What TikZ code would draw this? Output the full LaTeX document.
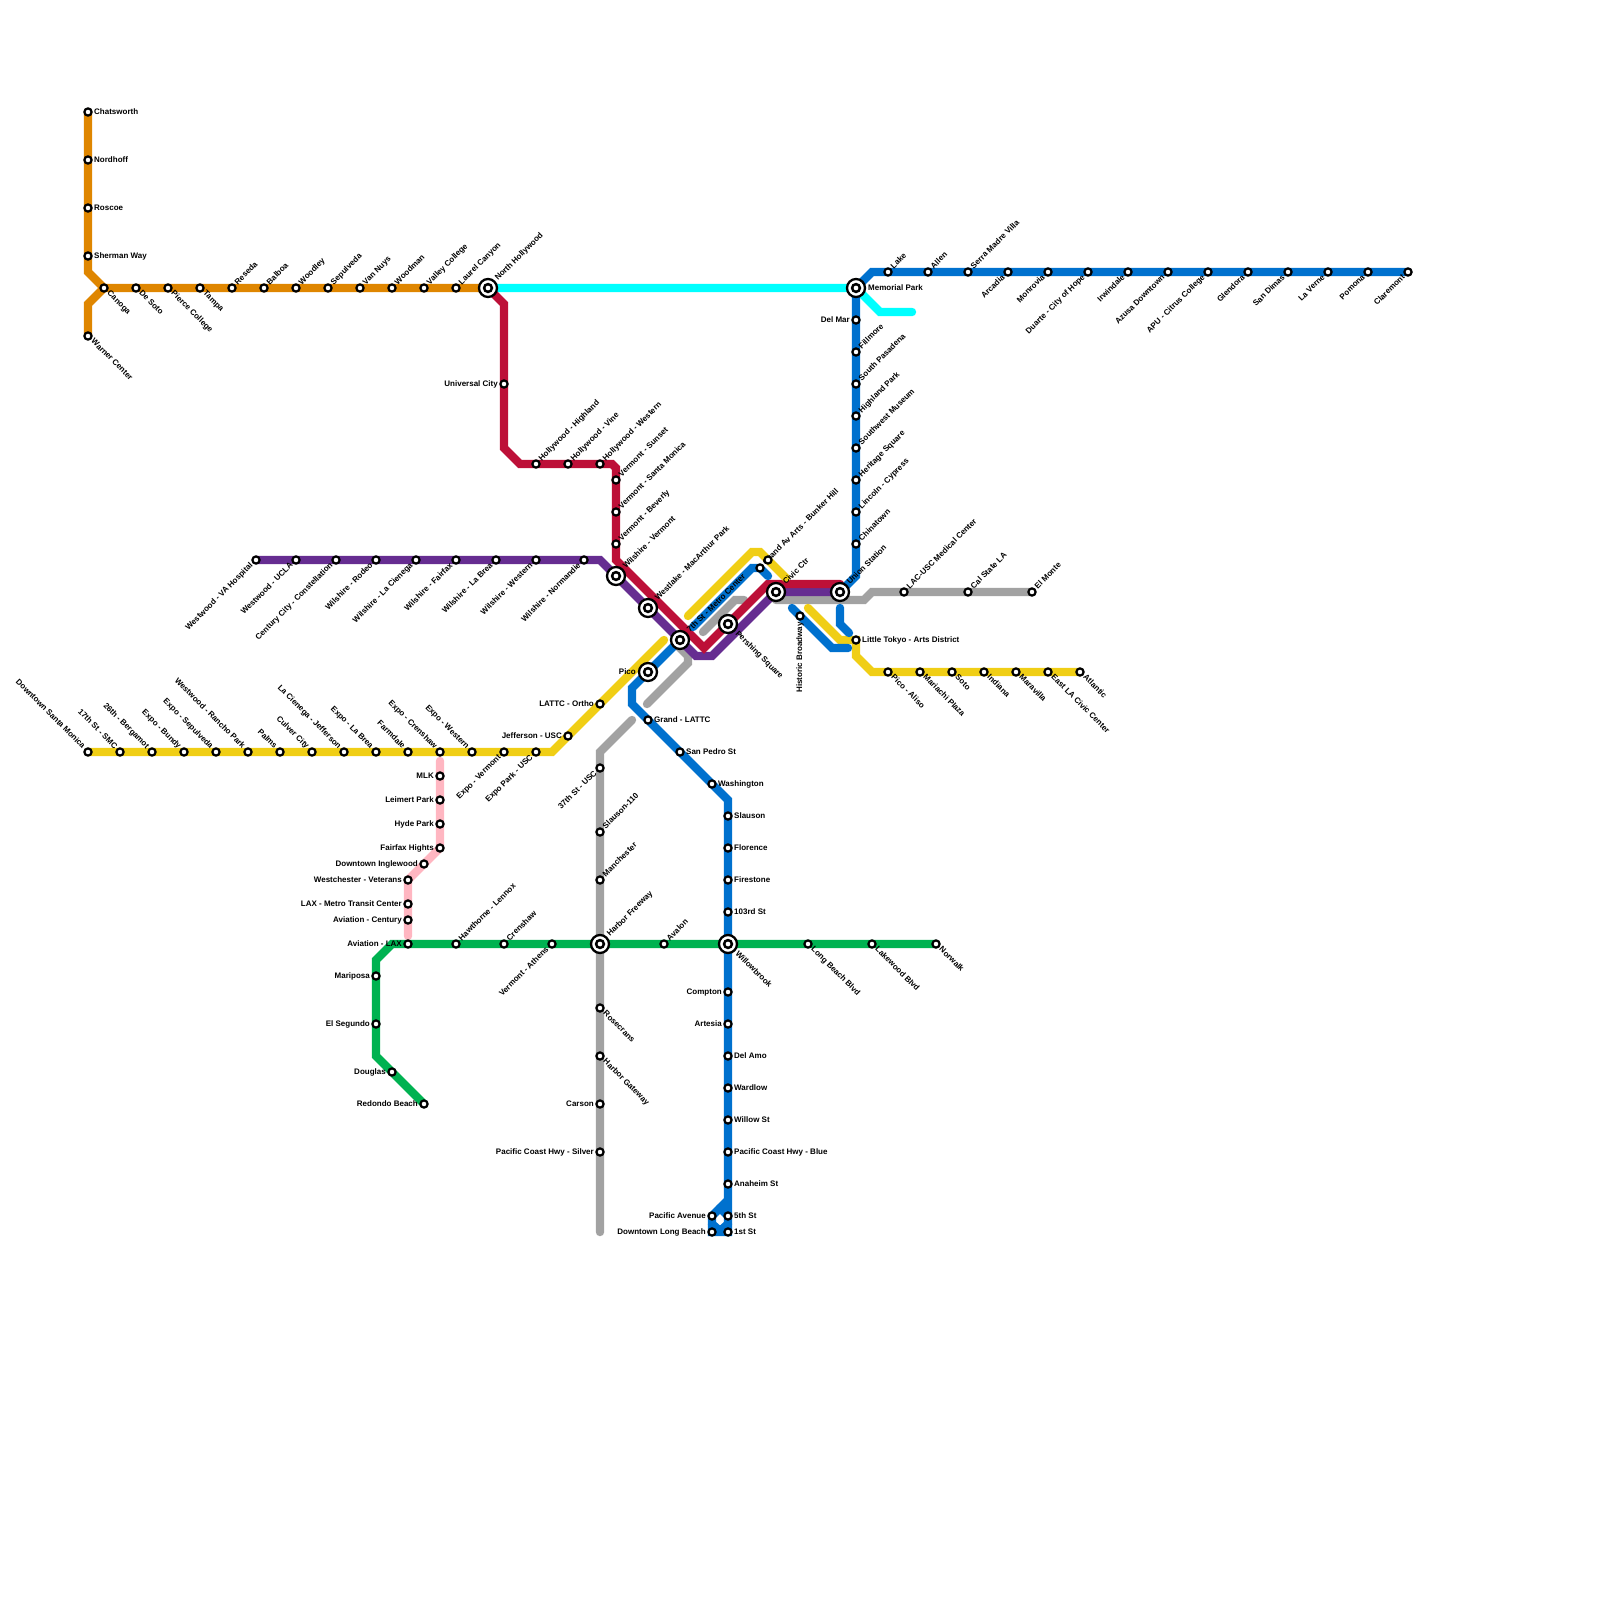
\documentclass[tikz,border=0pt]{standalone}
\usepackage{fontspec}
\setmainfont{Liberation Sans}
\definecolor{valleyorange}{HTML}{DF8600}
\definecolor{busway}{HTML}{00FFFF}
\definecolor{redline}{HTML}{BD1038}
\definecolor{purpleline}{HTML}{662D91}
\definecolor{goldline}{HTML}{F0CE15}
\definecolor{blueline}{HTML}{0071CE}
\definecolor{greenline}{HTML}{00B251}
\definecolor{silverline}{HTML}{A2A2A2}
\definecolor{pinkline}{HTML}{FFB6C1}
\pgfdeclarelayer{lines}
\pgfdeclarelayer{labels}
\pgfsetlayers{lines,labels,main}

\begin{document}
\begin{tikzpicture}[
  x=1pt, y=-1pt,
  track/.style={line width=8.4pt, line cap=round, miter limit=10},
  stop/.style={circle, draw=black, fill=white, line width=2.2pt, inner sep=0pt, minimum size=7.2pt},
  hub/.style={circle, draw=black, fill=white, line width=2.3pt, inner sep=0pt, minimum size=18pt,
    path picture={\draw[black, line width=2.5pt] (path picture bounding box.center) circle (3.9pt);}},
  lbl/.style={font=\fontsize{8}{9}\selectfont\bfseries, text=black, inner xsep=6pt, inner ysep=0pt,
    text height=6pt, text depth=1.7pt},
  lblE/.style={lbl, anchor=west},
  lblW/.style={lbl, anchor=east},
  lblS/.style={lbl, rotate=90, anchor=east},
  lblNE/.style={lbl, rotate=45, anchor=west},
  lblSE/.style={lbl, rotate=-45, anchor=west},
  lblSW/.style={lbl, rotate=45, anchor=east},
  lblNW/.style={lbl, rotate=-45, anchor=east},
]

\useasboundingbox (0,0) rectangle (1600,1600);

% Plain stops
\foreach \id/\x/\y/\side/\lab in {
  chatsworth/88/112/lblE/Chatsworth, nordhoff/88/160/lblE/Nordhoff, roscoe/88/208/lblE/Roscoe,
  shermanway/88/256/lblE/Sherman Way, warner/88/336/lblSE/Warner Center,
  canoga/104/288/lblSE/Canoga, desoto/136/288/lblSE/De Soto, pierce/168/288/lblSE/Pierce College,
  tampa/200/288/lblSE/Tampa, reseda/232/288/lblNE/Reseda, balboa/264/288/lblNE/Balboa,
  woodley/296/288/lblNE/Woodley, sepulveda/328/288/lblNE/Sepulveda, vannuys/360/288/lblNE/Van Nuys,
  woodman/392/288/lblNE/Woodman, valleycollege/424/288/lblNE/Valley College, laurel/456/288/lblNE/Laurel Canyon,
  universal/504/384/lblW/Universal City, hwhighland/536/464/lblNE/Hollywood - Highland,
  hwvine/568/464/lblNE/Hollywood - Vine, hwwestern/600/464/lblNE/Hollywood - Western,
  vsunset/616/480/lblNE/Vermont - Sunset, vsantamonica/616/512/lblNE/Vermont - Santa Monica,
  vbeverly/616/544/lblNE/Vermont - Beverly,
  wsva/256/560/lblSW/Westwood - VA Hospital, wsucla/296/560/lblSW/Westwood - UCLA,
  century/336/560/lblSW/Century City - Constellation, rodeo/376/560/lblSW/Wilshire - Rodeo,
  wlacienega/416/560/lblSW/Wilshire - La Cienega, wfairfax/456/560/lblSW/Wilshire - Fairfax,
  wlabrea/496/560/lblSW/Wilshire - La Brea, wwestern/536/560/lblSW/Wilshire - Western,
  wnormandie/584/560/lblSW/Wilshire - Normandie,
  smonica/88/752/lblNW/Downtown Santa Monica, smc/120/752/lblNW/17th St - SMC,
  bergamot/152/752/lblNW/26th - Bergamot, bundy/184/752/lblNW/Expo - Bundy,
  exsepulveda/216/752/lblNW/Expo - Sepulveda, rancho/248/752/lblNW/Westwood - Rancho Park,
  palms/280/752/lblNW/Palms, culver/312/752/lblNW/Culver City, jefferson/344/752/lblNW/La Cienega - Jefferson,
  exlabrea/376/752/lblNW/Expo - La Brea, farmdale/408/752/lblNW/Farmdale, excrenshaw/440/752/lblNW/Expo - Crenshaw,
  exwestern/472/752/lblNW/Expo - Western, exvermont/504/752/lblSW/Expo - Vermont, expark/536/752/lblSW/Expo Park - USC,
  jeffusc/568/736/lblW/Jefferson - USC, lattc/600/704/lblW/LATTC - Ortho,
  mlk/440/776/lblW/MLK, leimert/440/800/lblW/Leimert Park, hyde/440/824/lblW/Hyde Park,
  fairfaxh/440/848/lblW/Fairfax Hights, inglewood/424/864/lblW/Downtown Inglewood,
  veterans/408/880/lblW/Westchester - Veterans, laxtransit/408/904/lblW/LAX - Metro Transit Center,
  avcentury/408/920/lblW/Aviation - Century, avlax/408/944/lblW/Aviation - LAX,
  mariposa/376/976/lblW/Mariposa, elsegundo/376/1024/lblW/El Segundo, douglas/392/1072/lblW/Douglas,
  redondo/424/1104/lblW/Redondo Beach, hawthorne/456/944/lblNE/Hawthorne - Lennox,
  crenshaw/504/944/lblNE/Crenshaw, athens/552/944/lblSW/Vermont - Athens, avalon/664/944/lblNE/Avalon,
  longbeachblvd/808/944/lblSE/Long Beach Blvd, lakewood/872/944/lblSE/Lakewood Blvd, norwalk/936/944/lblSE/Norwalk,
  usc/600/768/lblSW/37th St - USC, slauson/600/832/lblNE/Slauson-110, manchester/600/880/lblNE/Manchester,
  rosecrans/600/1008/lblSE/Rosecrans, gateway/600/1056/lblSE/Harbor Gateway, carson/600/1104/lblW/Carson,
  pchsilver/600/1152/lblW/Pacific Coast Hwy - Silver,
  grand/648/720/lblE/Grand - LATTC, sanpedro/680/752/lblE/San Pedro St, washington/712/784/lblE/Washington,
  bslauson/728/816/lblE/Slauson, florence/728/848/lblE/Florence, firestone/728/880/lblE/Firestone,
  rd103/728/912/lblE/103rd St, compton/728/992/lblW/Compton, artesia/728/1024/lblW/Artesia,
  delamo/728/1056/lblE/Del Amo, wardlow/728/1088/lblE/Wardlow, willow/728/1120/lblE/Willow St,
  pchblue/728/1152/lblE/Pacific Coast Hwy - Blue, anaheim/728/1184/lblE/Anaheim St, fifth/728/1216/lblE/5th St,
  first/728/1232/lblE/1st St, pacificave/712/1216/lblW/Pacific Avenue, dtlb/712/1232/lblW/Downtown Long Beach,
  bunkerhill/760/568/lblNE/Grand Av Arts - Bunker Hill, bunkergold/768/560/lblNE/{},
  broadway/800/616/lblS/Historic Broadway, littletokyo/856/640/lblE/Little Tokyo - Arts District,
  aliso/888/672/lblSE/Pico - Aliso, mariachi/920/672/lblSE/Mariachi Plaza, soto/952/672/lblSE/Soto,
  indiana/984/672/lblSE/Indiana, maravilla/1016/672/lblSE/Maravilla, eastla/1048/672/lblSE/East LA Civic Center,
  atlantic/1080/672/lblSE/Atlantic,
  lacusc/904/592/lblNE/LAC-USC Medical Center, calstate/968/592/lblNE/Cal State LA, elmonte/1032/592/lblNE/El Monte,
  chinatown/856/544/lblNE/Chinatown, lincoln/856/512/lblNE/Lincoln - Cypress, heritage/856/480/lblNE/Heritage Square,
  swmuseum/856/448/lblNE/Southwest Museum, highland/856/416/lblNE/Highland Park, pasadena/856/384/lblNE/South Pasadena,
  fillmore/856/352/lblNE/Fillmore, delmar/856/320/lblW/Del Mar,
  lake/888/272/lblNE/Lake, allen/928/272/lblNE/Allen, serra/968/272/lblNE/Serra Madre Villa,
  arcadia/1008/272/lblSW/Arcadia, monrovia/1048/272/lblSW/Monrovia, duarte/1088/272/lblSW/Duarte - City of Hope,
  irwindale/1128/272/lblSW/Irwindale, azusa/1168/272/lblSW/Azusa Downtown, apu/1208/272/lblSW/APU - Citrus College,
  glendora/1248/272/lblSW/Glendora, sandimas/1288/272/lblSW/San Dimas, laverne/1328/272/lblSW/La Verne,
  pomona/1368/272/lblSW/Pomona, claremont/1408/272/lblSW/Claremont} {
  \node[stop] (\id) at (\x,\y) {};
  \begin{pgfonlayer}{labels}
    \node[\side] (\id-lbl) at (\x,\y) {\lab};
  \end{pgfonlayer}
}

% Interchanges
\foreach \id/\x/\y/\side/\lab in {
  noho/488/288/lblNE/North Hollywood, memorial/856/288/lblE/Memorial Park,
  wilvermont/616/576/lblNE/Wilshire - Vermont, westlake/648/608/lblNE/Westlake - MacArthur Park,
  metro/680/640/lblNE/7th St - Metro Center, pico/648/672/lblW/Pico, pershing/728/624/lblSE/Pershing Square,
  civic/776/592/lblNE/Civic Ctr, union/840/592/lblNE/Union Station,
  harborfwy/600/944/lblNE/Harbor Freeway, willowbrook/728/944/lblSE/Willowbrook} {
  \node[hub] (\id) at (\x,\y) {};
  \begin{pgfonlayer}{labels}
    \node[\side, inner xsep=12pt] (\id-lbl) at (\x,\y) {\lab};
  \end{pgfonlayer}
}

% Bends and loose ends
\coordinate (orangeA) at (88,272);
\coordinate (orangeB) at (88,304);
\coordinate (redA) at (504,304);
\coordinate (redB) at (504,448);
\coordinate (redC) at (520,464);
\coordinate (redD) at (612,464);
\coordinate (redE) at (616,468);
\coordinate (redF) at (616,560);
\coordinate (redG) at (704,648);
\coordinate (redH) at (768,584);
\coordinate (redI) at (840,584);
\coordinate (purpleA) at (600,560);
\coordinate (purpleB) at (696,656);
\coordinate (purpleC) at (712,656);
\coordinate (cyanA) at (880,312);
\coordinate (cyanB) at (912,312);
\coordinate (topA) at (872,272);
\coordinate (gemA) at (856,576);
\coordinate (goldA) at (552,752);
\coordinate (goldB) at (664,640);
\coordinate (goldC) at (688,616);
\coordinate (goldD) at (752,552);
\coordinate (goldE) at (760,552);
\coordinate (goldF) at (786,578);
\coordinate (goldG) at (808,608);
\coordinate (goldH) at (840,640);
\coordinate (goldI) at (856,656);
\coordinate (goldJ) at (872,672);
\coordinate (blueA) at (632,688);
\coordinate (blueB) at (632,704);
\coordinate (blueC) at (728,800);
\coordinate (blueD) at (728,1200);
\coordinate (blueE) at (752,568);
\coordinate (blueF) at (760,568);
\coordinate (blueG) at (768,576);
\coordinate (blueH) at (792,608);
\coordinate (blueI) at (832,648);
\coordinate (blueJ) at (848,648);
\coordinate (blueK) at (840,608);
\coordinate (blueL) at (840,624);
\coordinate (blueM) at (849,633);
\coordinate (blueN) at (693,627);
\coordinate (loopA) at (720,1208);
\coordinate (loopB) at (712,1224);
\coordinate (loopC) at (720,1231);
\coordinate (loopD) at (728,1224);
\coordinate (silverA) at (600,1232);
\coordinate (silverB) at (600,752);
\coordinate (silverC) at (632,720);
\coordinate (silverD) at (647,704);
\coordinate (silverE) at (688,663);
\coordinate (silverF) at (688,656);
\coordinate (silverG) at (676,644);
\coordinate (silverH) at (703,632);
\coordinate (silverI) at (735,600);
\coordinate (silverJ) at (744,600);
\coordinate (silverK) at (776,600);
\coordinate (silverL) at (864,600);
\coordinate (silverM) at (872,592);
\coordinate (pinkA) at (440,761);
\coordinate (pinkB) at (408,936);
\coordinate (greenA) at (392,944);
\coordinate (greenB) at (376,960);
\coordinate (greenC) at (376,1056);

\begin{pgfonlayer}{lines}
  % Pink line
  \draw[track, pinkline] (pinkA) -- (fairfaxh.center) -- (veterans.center) -- (pinkB);

  % Cyan line
  \draw[track, busway] (noho.center) -- (memorial.center) -- (cyanA) -- (cyanB);

  % Orange line
  \draw[track, valleyorange] (chatsworth.center) -- (orangeA) -- (canoga.center) -- (noho.center);
  \draw[track, valleyorange] (warner.center) -- (orangeB) -- (canoga.center);

  % Silver line
  \draw[track, silverline] (silverA) -- (silverB) -- (silverC);
  \draw[track, silverline] (silverD) -- (silverE) -- (silverF) -- (silverG);
  \draw[track, silverline] (silverH) -- (silverI) -- (silverJ);
  \draw[track, silverline] (silverK) -- (silverL) -- (silverM) -- (elmonte.center);

  % Purple line
  \draw[track, purpleline] (wsva.center) -- (purpleA) -- (purpleB) -- (purpleC) -- (civic.center) -- (union.center);

  % Red line
  \draw[track, redline] (noho.center) -- (redA) -- (redB) -- (redC) -- (redD) -- (redE) -- (redF)
    -- (redG) -- (redH) -- (redI);

  % Gold line
  \draw[track, goldline] (smonica.center) -- (goldA) -- (goldB);
  \draw[track, goldline] (goldC) -- (goldD) -- (goldE) -- (goldF);
  \draw[track, goldline] (goldG) -- (goldH) -- (littletokyo.center) -- (goldI) -- (goldJ) -- (atlantic.center);

  % Blue lines
  \draw[track, blueline] (claremont.center) -- (topA) -- (memorial.center) -- (gemA) -- (union.center);
  \draw[track, blueline] (blueK) -- (blueL) -- (blueM);
  \draw[track, blueline] (blueG) -- (blueF) -- (blueE) -- (blueN);
  \draw[track, blueline] (metro.center) -- (blueA) -- (blueB) -- (blueC)
    -- (first.center) -- (dtlb.center) -- (pacificave.center) -- (blueD);
  \draw[track, blueline] (loopA) -- (fifth.center);
  \draw[track, blueline] (loopB) -- (loopC);
  \draw[track, blueline] (loopC) -- (loopD);
  \draw[track, blueline] (blueH) -- (blueI) -- (blueJ);

  % Green line
  \draw[track, greenline] (norwalk.center) -- (greenA) -- (greenB) -- (greenC) -- (redondo.center);
\end{pgfonlayer}

\end{tikzpicture}
\end{document}
